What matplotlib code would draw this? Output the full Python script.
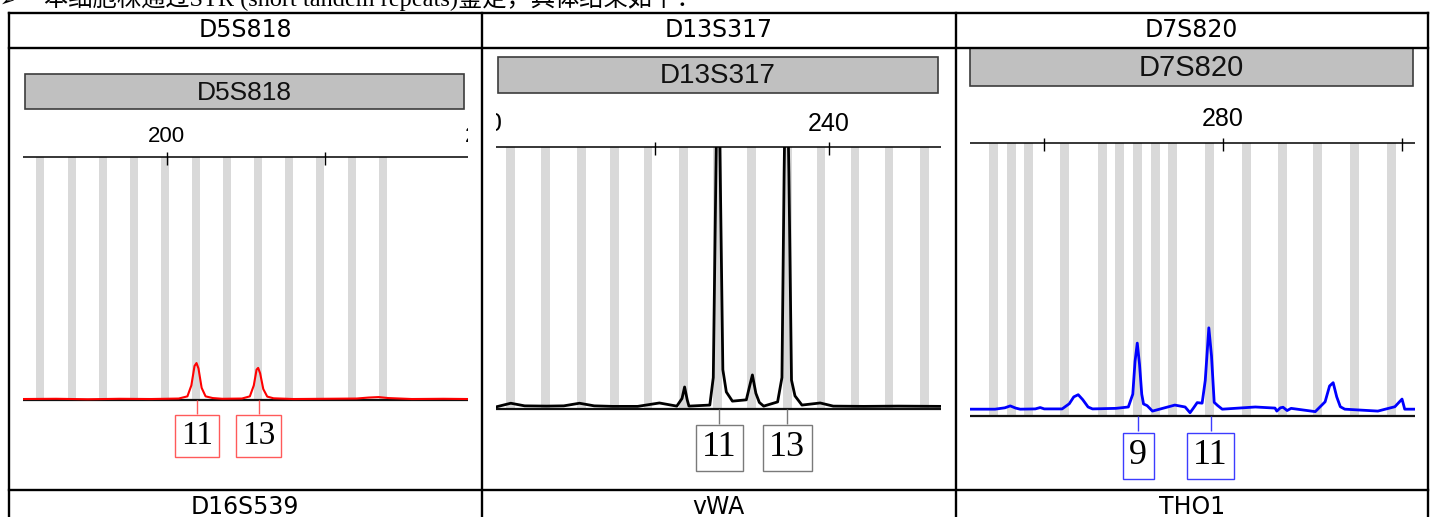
import matplotlib
matplotlib.use("Agg")
import matplotlib.pyplot as plt
from matplotlib.patches import Rectangle

W, H = 1434, 517

# text of the page / table
intro = "本细胞株通过STR (short tandem repeats)鉴定，具体结果如下："
top_loci = ["D5S818", "D13S317", "D7S820"]
next_loci = ["D16S539", "vWA", "THO1"]

# D5S818, red dye (size in bp, signal scaled so the top rule = 1000)
d5_ladder = [184.0, 188.0, 191.9, 195.8, 199.8, 203.7, 207.6, 211.5, 215.4, 219.4, 223.4, 227.4]
d5_bp = [181.8, 186.0, 190.0, 194.0, 198.0, 201.5, 202.6, 203.1, 203.5, 203.75, 204.0, 204.4, 204.9,
         205.8, 207.0, 209.5, 210.5, 211.0, 211.35, 211.55, 211.8, 212.2, 212.7, 213.5, 216.0, 220.0,
         224.0, 225.5, 226.8, 228.0, 231.0, 235.0, 238.1]
d5_rfu = [4, 5, 3, 5, 4, 6, 15, 60, 140, 152, 130, 50, 15,
          8, 5, 6, 15, 60, 125, 132, 110, 45, 14, 7, 4, 5,
          6, 10, 12, 8, 4, 5, 4]
d5_ticks = [200, 220, 240]
d5_tick_labels = ["200", "", "240"]
d5_alleles = [203.8, 211.6]
d5_calls = ["11", "13"]

# D13S317, black dye
d13_ladder = [203.4, 207.4, 211.5, 215.3, 219.2, 223.3, 227.2, 231.1, 235.2, 239.1, 243.0, 246.9, 251.0]
d13_bp = [201.7, 203.4, 205.0, 207.5, 209.5, 211.3, 213.0, 215.1, 218.0, 220.5, 222.5, 223.1, 223.4,
          223.7, 223.9, 226.3, 226.7, 227.0, 227.25, 227.5, 227.8, 228.2, 228.9, 230.5, 230.9, 231.2,
          231.6, 232.0, 232.5, 234.1, 234.6, 234.85, 235.1, 235.4, 235.7, 236.1, 236.9, 239.0, 240.5,
          244.0, 248.0, 252.9]
d13_rfu = [8, 22, 12, 11, 12, 22, 12, 10, 10, 23, 11, 40, 84,
           35, 11, 15, 120, 900, 1500, 900, 150, 65, 30, 35, 90, 130,
           60, 25, 11, 27, 120, 900, 1500, 900, 110, 50, 15, 23, 11,
           10, 11, 10]
d13_ticks = [200, 220, 240]
d13_tick_labels = ["200", "", "240"]
d13_alleles = [227.4, 235.2]
d13_calls = ["11", "13"]

# D7S820, blue dye
d7_ladder = [254.3, 256.3, 258.2, 262.3, 266.5, 268.4, 270.4, 272.4, 274.3, 278.5, 282.6, 286.6,
             290.6, 294.7, 298.8]
d7_bp = [251.8, 254.5, 255.6, 256.2, 256.8, 257.3, 259.0, 259.55, 260.0, 262.0, 262.8, 263.3, 263.8,
         264.3, 264.9, 265.4, 268.0, 269.4, 269.9, 270.15, 270.4, 270.65, 270.9, 271.1, 271.5, 272.1,
         274.6, 275.75, 276.3, 276.7, 277.1, 277.65, 278.0, 278.4, 278.7, 279.0, 279.4, 279.9, 283.6,
         285.8, 286.0, 286.4, 286.7, 287.15, 287.6, 290.3, 291.4, 291.9, 292.3, 292.7, 293.1, 293.6,
         297.3, 299.2, 300.0, 300.3, 301.45]
d7_rfu = [25, 25, 30, 37, 29, 25, 26, 31, 26, 26, 45, 70, 78,
          60, 33, 26, 28, 33, 80, 200, 267, 190, 80, 44, 38, 18,
          40, 33, 12, 30, 49, 47, 130, 323, 220, 50, 38, 25, 33,
          29, 18, 30, 32, 20, 28, 16, 52, 110, 122, 70, 34, 25,
          18, 34, 62, 25, 25]
d7_ticks = [260, 280, 300]
d7_tick_labels = ["", "280", ""]
d7_alleles = [270.5, 278.6]
d7_calls = ["9", "11"]


def draw_panel(fig, px, xlim, ladder, bp, rfu, ticks, tick_labels, alleles, calls,
               color, box_color, lw, tick_size, call_size):
    # px: left, right, top, axis rule, baseline, tick label, call box top, call box middle, bottom
    L, R, top, axis_y, base_y, label_y, box_top, box_mid, bottom = px
    k = 1000.0 / (base_y - axis_y)
    ax = fig.add_axes([L / W, 1 - bottom / H, (R - L) / W, (bottom - top) / H])
    ax.set_xlim(*xlim)
    ax.set_ylim((base_y - bottom) * k, (base_y - top) * k)
    ax.set_axis_off()

    ax.bar(ladder, 1000, width=1.0, bottom=0, color="#d9d9d9", zorder=1)
    ax.axhline(0, color="#111111", lw=1.6, zorder=2)
    ax.axhline(1000, color="black", lw=1.1, zorder=2)
    ax.vlines(ticks, 1000 - 8 * k, 1000 + 5 * k, color="black", lw=1.0, zorder=2)
    for t, s in zip(ticks, tick_labels):
        ax.text(t, (base_y - label_y) * k, s, ha="center", va="center", fontsize=tick_size,
                family="Liberation Sans", clip_on=True)

    trace, = ax.plot(bp, rfu, color=color, lw=lw, zorder=3, solid_joinstyle="round")
    trace.set_clip_path(Rectangle((xlim[0], -1000), xlim[1] - xlim[0], 2000, transform=ax.transData))

    ax.vlines(alleles, (base_y - box_top) * k, 0, color=box_color, lw=1.0, zorder=2)
    for a, c in zip(alleles, calls):
        ax.text(a, (base_y - box_mid) * k, c, ha="center", va="center", fontsize=call_size,
                family="Liberation Serif",
                bbox=dict(boxstyle="square,pad=0.18", fc="white", ec=box_color, lw=1.0))
    return ax


fig = plt.figure(figsize=(W / 100, H / 100), dpi=100)
page = fig.add_axes([0, 0, 1, 1])
page.set_xlim(0, W)
page.set_ylim(H, 0)
page.set_axis_off()

# the cut-off sentence above the table
page.text(0, 6, "➢", fontsize=13, family="DejaVu Sans", va="baseline", ha="left")
page.text(44, 6, intro, fontsize=17.5, family=["Liberation Serif", "Noto Sans CJK SC"],
          va="baseline", ha="left")

# table grid
cols = [8.5, 482, 955.5, 1428]
for y in [12.7, 47.5, 490]:
    page.plot([cols[0], cols[-1]], [y, y], color="black", lw=1.7, solid_capstyle="projecting")
for x in cols:
    page.plot([x, x], [12.7, H + 5], color="black", lw=1.7, solid_capstyle="projecting")
for i in range(3):
    cx = (cols[i] + cols[i + 1]) / 2
    page.text(cx, 30, top_loci[i], ha="center", va="center", fontsize=17, family="DejaVu Sans")
    page.text(cx, 507.5, next_loci[i], ha="center", va="center", fontsize=17, family="DejaVu Sans")

# grey locus bars inside each cell
bars = [(25, 74, 464, 109, 19), (498, 57, 938, 93, 20), (970, 48, 1413, 86, 21)]
for (x0, y0, x1, y1, fs), name in zip(bars, top_loci):
    page.add_patch(Rectangle((x0, y0), x1 - x0, y1 - y0, fc="#c0c0c0", ec="#3c3c3c", lw=1.2))
    page.text((x0 + x1) / 2, (y0 + y1) / 2 + 1, name, ha="center", va="center",
              fontsize=fs, family="Liberation Sans", color="#111111")

draw_panel(fig, (23, 468, 112, 157, 400, 137, 414, 436, 488), (181.8, 238.1),
           d5_ladder, d5_bp, d5_rfu, d5_ticks, d5_tick_labels, d5_alleles, d5_calls,
           "#ff0000", "#ff5a5a", 1.5, 16, 24)
draw_panel(fig, (496, 941, 96, 147, 409, 124, 424, 448, 488), (201.7, 252.9),
           d13_ladder, d13_bp, d13_rfu, d13_ticks, d13_tick_labels, d13_alleles, d13_calls,
           "#000000", "#7a7a7a", 2.0, 18, 26)
draw_panel(fig, (970, 1415, 90, 143, 416, 119, 431, 455.5, 488), (251.7, 301.45),
           d7_ladder, d7_bp, d7_rfu, d7_ticks, d7_tick_labels, d7_alleles, d7_calls,
           "#0000ff", "#3c3cff", 2.0, 18, 26)

fig.savefig("out.png", dpi=100)
